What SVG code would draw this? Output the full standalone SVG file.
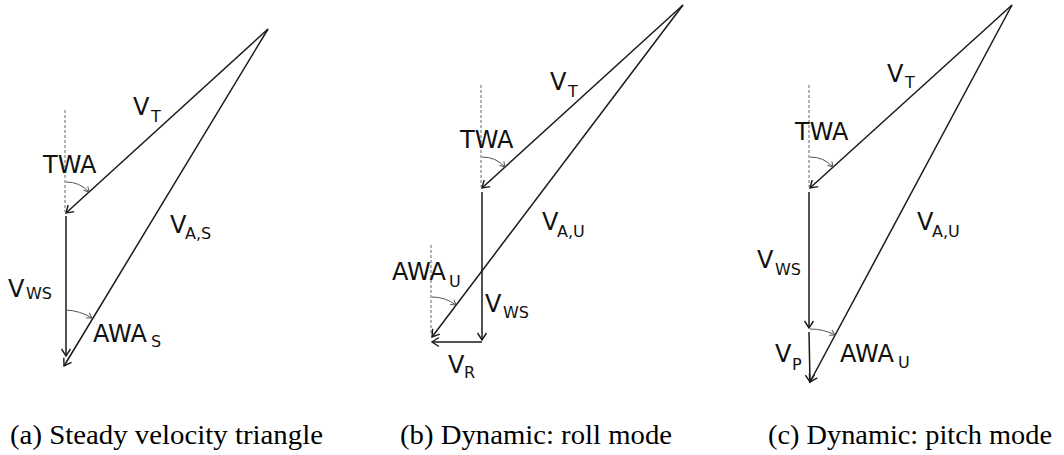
<svg xmlns="http://www.w3.org/2000/svg" width="1064" height="455" viewBox="0 0 1064 455">
<style>
.vec{stroke:#1a1a1a;stroke-width:1.5;fill:none;marker-end:url(#arr)}
.line{stroke:#1a1a1a;stroke-width:1.5;fill:none}
.dash{stroke:#666;stroke-width:1;stroke-dasharray:3,2;fill:none}
.arc{stroke:#555;stroke-width:1;fill:none;marker-end:url(#sarr)}
.lbl{font-family:"DejaVu Sans",Verdana,sans-serif;font-size:24px;fill:#111}
.sub{font-size:16px}
.cap{font-family:"Liberation Serif","Times New Roman",serif;font-size:28px;fill:#000}
</style>
<defs>
<marker id="arr" markerUnits="userSpaceOnUse" markerWidth="12" markerHeight="12" viewBox="0 0 12 12" refX="10" refY="6" orient="auto">
<path d="M3,1.5 L10,6 L3,10.5" fill="none" stroke="#1a1a1a" stroke-width="1.4"/>
</marker>
<marker id="sarr" markerUnits="userSpaceOnUse" markerWidth="8" markerHeight="8" viewBox="0 0 8 8" refX="6.5" refY="4" orient="auto">
<path d="M1.5,1 L6.5,4 L1.5,7" fill="none" stroke="#555" stroke-width="1"/>
</marker>
</defs>
<rect width="1064" height="455" fill="#fff"/>

<g id="panel-a">
<g id="a-connectors">
<line class="dash" x1="65" y1="110" x2="65" y2="212"/>
<line class="vec" x1="268" y1="29" x2="66" y2="213"/>
<line class="vec" x1="66" y1="216" x2="66" y2="356"/>
<line class="vec" x1="268" y1="29" x2="64" y2="366"/>
<path class="arc" d="M66,182 A31,31 0 0 1 89,192"/>
<path class="arc" d="M66,310 A56,56 0 0 1 92,318"/>
</g>
<g id="a-labels">
<text class="lbl" x="43" y="173">TWA</text>
<text class="lbl" x="133" y="115">V<tspan class="sub" x="151" y="122">T</tspan></text>
<text class="lbl" x="170" y="233">V<tspan class="sub" x="185" y="239">A,S</tspan></text>
<text class="lbl" x="8" y="297">V<tspan class="sub" x="26" y="299">WS</tspan></text>
<text class="lbl" x="93" y="342">AWA<tspan class="sub" x="151" y="347">S</tspan></text>
</g>
<text class="cap" x="10" y="444" textLength="313" lengthAdjust="spacingAndGlyphs">(a) Steady velocity triangle</text>
</g>

<g id="panel-b">
<g id="b-connectors">
<line class="dash" x1="481" y1="85" x2="481" y2="187"/>
<line class="dash" x1="431" y1="245" x2="431" y2="334"/>
<line class="vec" x1="683" y1="5" x2="482" y2="188"/>
<line class="vec" x1="482" y1="192" x2="482" y2="340"/>
<line class="vec" x1="482" y1="342" x2="432" y2="342"/>
<line class="vec" x1="683" y1="5" x2="432" y2="337"/>
<path class="arc" d="M482,157 A31,31 0 0 1 505,167"/>
<path class="arc" d="M432,297 A40,40 0 0 1 456,305"/>
</g>
<g id="b-labels">
<text class="lbl" x="460" y="148">TWA</text>
<text class="lbl" x="550" y="90">V<tspan class="sub" x="568" y="97">T</tspan></text>
<text class="lbl" x="542" y="230">V<tspan class="sub" x="557" y="237">A,U</tspan></text>
<text class="lbl" x="392" y="280">AWA<tspan class="sub" x="449" y="287">U</tspan></text>
<text class="lbl" x="485" y="312">V<tspan class="sub" x="503" y="318">WS</tspan></text>
<text class="lbl" x="448" y="373">V<tspan class="sub" x="464" y="378">R</tspan></text>
</g>
<text class="cap" x="400" y="444" textLength="272" lengthAdjust="spacingAndGlyphs">(b) Dynamic: roll mode</text>
</g>

<g id="panel-c">
<g id="c-connectors">
<line class="dash" x1="809" y1="85" x2="809" y2="187"/>
<line class="vec" x1="1012" y1="5" x2="810" y2="188"/>
<line class="vec" x1="809" y1="192" x2="809" y2="328"/>
<line class="vec" x1="809" y1="332" x2="810" y2="382"/>
<line class="vec" x1="1012" y1="5" x2="810" y2="382"/>
<path class="arc" d="M810,157 A31,31 0 0 1 833,167"/>
<path class="arc" d="M810,329 A53,53 0 0 1 835,335"/>
</g>
<g id="c-labels">
<text class="lbl" x="795" y="140">TWA</text>
<text class="lbl" x="887" y="82">V<tspan class="sub" x="905" y="88">T</tspan></text>
<text class="lbl" x="917" y="230">V<tspan class="sub" x="932" y="237">A,U</tspan></text>
<text class="lbl" x="757" y="268">V<tspan class="sub" x="775" y="275">WS</tspan></text>
<text class="lbl" x="775" y="362">V<tspan class="sub" x="792" y="370">P</tspan></text>
<text class="lbl" x="840" y="362">AWA<tspan class="sub" x="898" y="368">U</tspan></text>
</g>
<text class="cap" x="768" y="444" textLength="284" lengthAdjust="spacingAndGlyphs">(c) Dynamic: pitch mode</text>
</g>
</svg>
